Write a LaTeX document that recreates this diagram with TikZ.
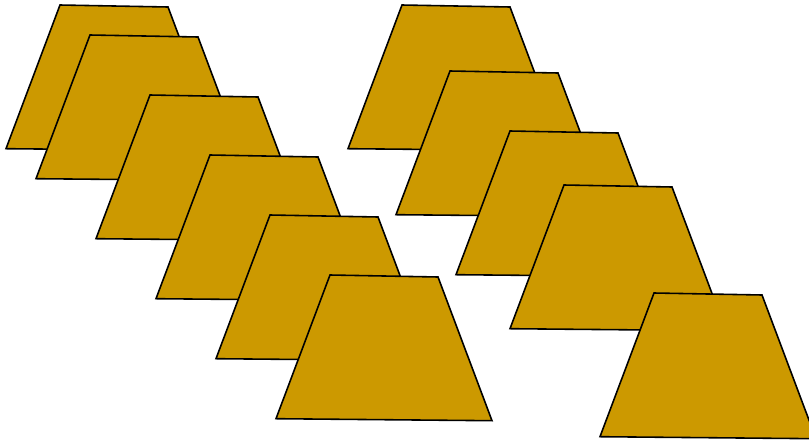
\documentclass[tikz,border=0pt]{standalone}
\usepackage{tikz}
\definecolor{slabgold}{RGB}{204,153,0}
\tikzset{
  slab/.style={fill=slabgold,draw=black,line width=0.9pt,line join=miter}
}
% one trapezoid, given by its top-left corner (in px)
\newcommand{\trapslab}[2]{%
  \filldraw[slab] (#1,#2) -- ++(108,2) -- ++(54,143.7) -- ++(-216,-2) -- cycle;
}

\begin{document}
\begin{tikzpicture}[x=0.02cm,y=-0.02cm]
  \path[use as bounding box,clip] (0,0) rectangle (809,443);
  \fill[white] (0,0) rectangle (809,443);

  % Left stack
  \foreach \tx/\ty in {60/5,90/35,150/95,210/155,270/215,330/275} {
    \trapslab{\tx}{\ty}
  }

  % Right stack
  \foreach \tx/\ty in {402/5,450/71,510/131,564/185,654/293} {
    \trapslab{\tx}{\ty}
  }
\end{tikzpicture}
\end{document}
